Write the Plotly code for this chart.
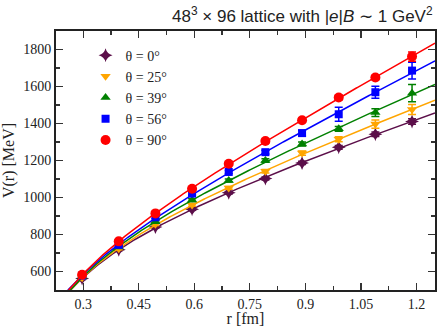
import numpy as np
import plotly.graph_objects as go

# ---- data ----
r_fm = [0.297, 0.396, 0.495, 0.594, 0.693, 0.792, 0.891, 0.990, 1.089, 1.188]

V_theta0 = [562, 718, 840, 937, 1026, 1103, 1187, 1271, 1342, 1411]
V_theta25 = [566, 723, 855, 960, 1052, 1142, 1240, 1315, 1397, 1476]
V_theta39 = [571, 732, 869, 986, 1092, 1200, 1289, 1371, 1459, 1564]
V_theta56 = [578, 744, 893, 1021, 1138, 1245, 1348, 1450, 1569, 1686]
V_theta90 = [582, 763, 914, 1047, 1182, 1305, 1418, 1541, 1649, 1762]

E_theta0 = [5, 5, 5, 6, 7, 8, 9, 10, 12, 15]
E_theta25 = [5, 5, 6, 7, 8, 10, 11, 13, 22, 27]
E_theta39 = [5, 5, 6, 7, 8, 10, 11, 13, 21, 47]
E_theta56 = [5, 5, 6, 7, 8, 10, 16, 38, 32, 45]
E_theta90 = [5, 5, 6, 7, 8, 10, 11, 13, 12, 25]

legend_labels = ["θ = 0°", "θ = 25°", "θ = 39°", "θ = 56°", "θ = 90°"]

x_range = [0.2265, 1.25]
x_tickvals = [0.3, 0.45, 0.6, 0.75, 0.9, 1.05, 1.2]
y_range = [500, 1900]
y_tickvals = [600, 800, 1000, 1200, 1400, 1600, 1800]

series = [
    (legend_labels[0], V_theta0, E_theta0, "#5c0f4a", "star-diamond", 10),
    (legend_labels[1], V_theta25, E_theta25, "#ffa500", "triangle-down", 9),
    (legend_labels[2], V_theta39, E_theta39, "#008000", "triangle-up", 9),
    (legend_labels[3], V_theta56, E_theta56, "#0000ff", "square", 8),
    (legend_labels[4], V_theta90, E_theta90, "#ff0000", "circle", 10),
]

fig = go.Figure()
r = np.array(r_fm)
rr = np.linspace(x_range[0], x_range[1], 300)
for name, V, E, col, sym, sz in series:
    # Cornell-form fit (A - B/r + sigma r) of the plotted points
    M = np.vstack([np.ones_like(r), -1.0 / r, r]).T
    coef, *_ = np.linalg.lstsq(M, np.array(V, dtype=float), rcond=None)
    fit = coef[0] - coef[1] / rr + coef[2] * rr
    fig.add_trace(go.Scatter(x=rr.tolist(), y=fit.tolist(), mode="lines",
                             line=dict(color=col, width=1.5),
                             showlegend=False, hoverinfo="skip"))
    fig.add_trace(go.Scatter(x=r_fm, y=V, mode="markers", name=name,
                             marker=dict(color=col, symbol=sym, size=sz, line=dict(width=0)),
                             error_y=dict(type="data", array=E, color=col, thickness=1.5, width=4)))

serif = "Liberation Serif, Times New Roman, serif"
axis_common = dict(showline=True, linecolor="#222", linewidth=2, mirror="ticks",
                   ticks="inside", ticklen=7, tickwidth=1.2, tickcolor="#333",
                   showgrid=False, zeroline=False, fixedrange=True, autorange=False,
                   tickfont=dict(family=serif, size=14, color="#222"))

x_step = round(x_tickvals[1] - x_tickvals[0], 6)
y_step = y_tickvals[1] - y_tickvals[0]

fig.update_layout(
    width=439, height=327, autosize=False,
    margin=dict(l=56, r=2, t=31, b=30),
    paper_bgcolor="white", plot_bgcolor="white",
    xaxis=dict(range=x_range, tickmode="linear", tick0=x_tickvals[0], dtick=x_step,
               minor=dict(tickmode="linear", tick0=x_tickvals[0], dtick=x_step / 2,
                          ticks="inside", ticklen=4, tickcolor="#333"),
               title=dict(text="r [fm]", font=dict(family=serif, size=16, color="#222"), standoff=2),
               **axis_common),
    yaxis=dict(range=y_range, tickmode="linear", tick0=y_tickvals[0], dtick=y_step,
               minor=dict(tickmode="linear", tick0=y_tickvals[0], dtick=y_step / 2,
                          ticks="inside", ticklen=4, tickcolor="#333"),
               title=dict(text="V(r) [MeV]", font=dict(family=serif, size=16, color="#222"), standoff=6),
               **axis_common),
    legend=dict(x=0.078, y=0.967, xanchor="left", yanchor="top", bgcolor="rgba(0,0,0,0)",
                font=dict(family=serif, size=14, color="#222"), itemwidth=30),
    annotations=[dict(text="48<sup>3</sup> × 96 lattice with |<i>e</i>|<i>B</i> ∼ 1 GeV<sup>2</sup>",
                      xref="paper", yref="paper", x=1.0, y=1.0, xanchor="right", yanchor="bottom",
                      yshift=3, showarrow=False,
                      font=dict(family="Liberation Sans, Arial, sans-serif", size=17, color="#222"))],
)

fig.write_html("out.html", config={"staticPlot": True, "displayModeBar": False},
               post_script="document.body.style.margin='0';")
